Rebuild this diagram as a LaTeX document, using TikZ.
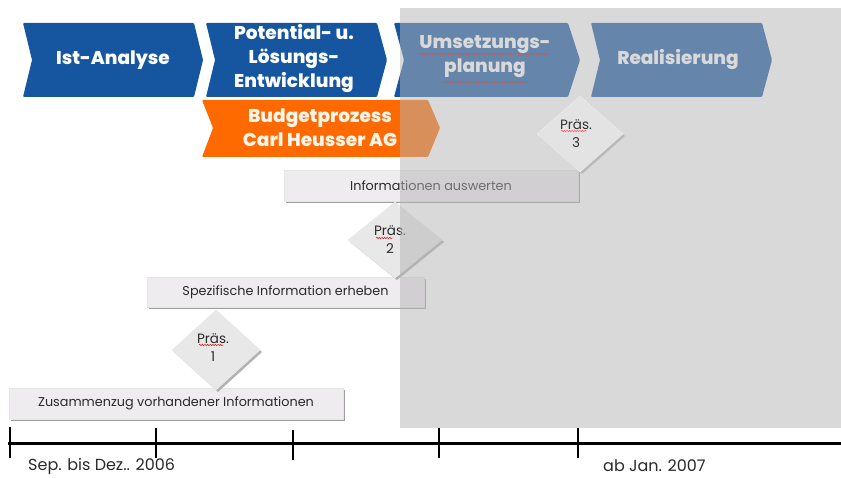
\documentclass[tikz,border=0pt]{standalone}
\usepackage{fontspec}
\setmainfont{Poppins}
\newfontfamily\chevfont{Poppins}[UprightFont=* ExtraBold]
\usetikzlibrary{shadows,decorations.pathmorphing}
\definecolor{chevblue}{HTML}{1656A0}
\definecolor{chevorange}{HTML}{FF6A00}
\definecolor{boxfill}{HTML}{EFECEF}
\definecolor{diafill}{HTML}{E8E8E8}
\definecolor{overlaygray}{HTML}{B4B4B4}
\definecolor{textdark}{HTML}{2A2A2A}
\begin{document}
\begin{tikzpicture}[x=1pt,y=-1pt,
  chevblueshape/.style={fill=chevblue,rounded corners=1pt},
  chevorangeshape/.style={fill=chevorange,rounded corners=1pt},
  chevtext/.style={text=white,font=\chevfont\fontsize{18.5}{24}\selectfont,align=center,inner sep=0pt},
  infobox/.style={fill=boxfill,draw=gray!20,line width=0.4pt,inner sep=0pt,
    text=textdark,font=\fontsize{12.8}{14}\selectfont,
    drop shadow={shadow xshift=1.8pt,shadow yshift=-1.8pt,fill=gray!75,opacity=1}},
  diashape/.style={fill=diafill,draw=gray!15,line width=0.3pt},
  diashadow/.style={fill=gray!60},
  diatext/.style={text=textdark,font=\fontsize{13.5}{18}\selectfont,align=center,inner sep=0pt},
  squiggle/.style={red!85!black,line width=0.45pt,decorate,
    decoration={snake,amplitude=0.7pt,segment length=2.6pt}},
  tick/.style={line width=1.4pt,black},
  datetext/.style={text=textdark,font=\fontsize{16}{18}\selectfont,inner sep=0pt}
]
\useasboundingbox (0,0) rectangle (841,478);
\fill[white] (0,0) rectangle (841,478);

% --- chevrons, row 1
\fill[chevblueshape] (23,23) -- (194,23) -- (203,60) -- (194,97) -- (23,97) -- (32,60) -- cycle;
\node[chevtext] (ist) at (113,60) {Ist-Analyse};

\fill[chevblueshape] (206,23) -- (377,23) -- (387,60) -- (377,97) -- (206,97) -- (215,60) -- cycle;
\node[chevtext] (pot) at (294,59) {Potential- u.\\Lösungs-\\Entwicklung};

\fill[chevblueshape] (394,23) -- (568,23) -- (580,60) -- (568,97) -- (394,97) -- (404,60) -- cycle;
\node[chevtext] (ums) at (485,57) {Umsetzungs-\\planung};
\draw[squiggle] (420,54) -- (548,54);
\draw[squiggle] (443,82) -- (528,82);

\fill[chevblueshape] (591,23) -- (762,23) -- (772,60) -- (762,97) -- (591,97) -- (600,60) -- cycle;
\node[chevtext] (real) at (678,60) {Realisierung};

% --- orange chevron
\fill[chevorangeshape] (202,100) -- (428,100) -- (440,128) -- (428,157) -- (202,157) -- (213,128) -- cycle;
\node[chevtext,text=white!92!orange] (budget) at (320,128) {Budgetprozess\\Carl Heusser AG};

% --- boxes
\node[infobox,minimum width=294pt,minimum height=31pt] (auswerten) at (431,185.5) {Informationen auswerten};
\node[infobox,minimum width=277pt,minimum height=30pt] (spez) at (285.5,292) {Spezifische Information erheben};
\node[infobox,minimum width=334pt,minimum height=31pt] (zus) at (176,403.5) {Zusammenzug vorhandener Informationen};

% --- diamonds 1 and 2
\fill[diashadow] (218,312) -- (262,352) -- (218,392) -- (174,352) -- cycle;
\filldraw[diashape] (216,310) -- (260,350) -- (216,390) -- (172,350) -- cycle;
\node[diatext] (p1) at (213,348) {Präs.\\1};
\draw[squiggle] (199,345) -- (224,345);

\fill[diashadow] (397,204) -- (444,242) -- (397,280) -- (350,242) -- cycle;
\filldraw[diashape] (395,202) -- (442,240) -- (395,278) -- (348,240) -- cycle;
\node[diatext] (p2) at (390,240) {Präs.\\2};
\draw[squiggle] (376,238) -- (393,238);

% --- overlay
\fill[overlaygray,opacity=0.5] (400,8) rectangle (841,428);

% --- diamond 3 (within the shaded area)
\fill[gray!55] (582,98) -- (625,136) -- (582,174) -- (539,136) -- cycle;
\filldraw[fill=gray!22,draw=gray!10,line width=0.3pt] (580,96) -- (623,134) -- (580,172) -- (537,134) -- cycle;
\node[diatext,text=gray!40!black] (p3) at (576,134) {Präs.\\3};
\draw[squiggle,red!70] (561,131) -- (587,131);

% --- timeline
\coordinate (tl0) at (8,443);
\coordinate (tl1) at (841,443);
\draw[line width=3pt,black] (tl0) -- (tl1);
\draw[tick,line width=2pt] (10,427) -- (10,458);
\draw[tick] (156,428) -- (156,458);
\draw[tick] (293,430) -- (293,460);
\draw[tick] (439,428) -- (439,458);
\draw[tick] (578,428) -- (578,458);
\node[datetext,anchor=west] (start) at (28,466) {Sep. bis Dez.. 2006};
\node[datetext,anchor=west] (ende) at (603,466) {ab Jan. 2007};
\end{tikzpicture}
\end{document}
